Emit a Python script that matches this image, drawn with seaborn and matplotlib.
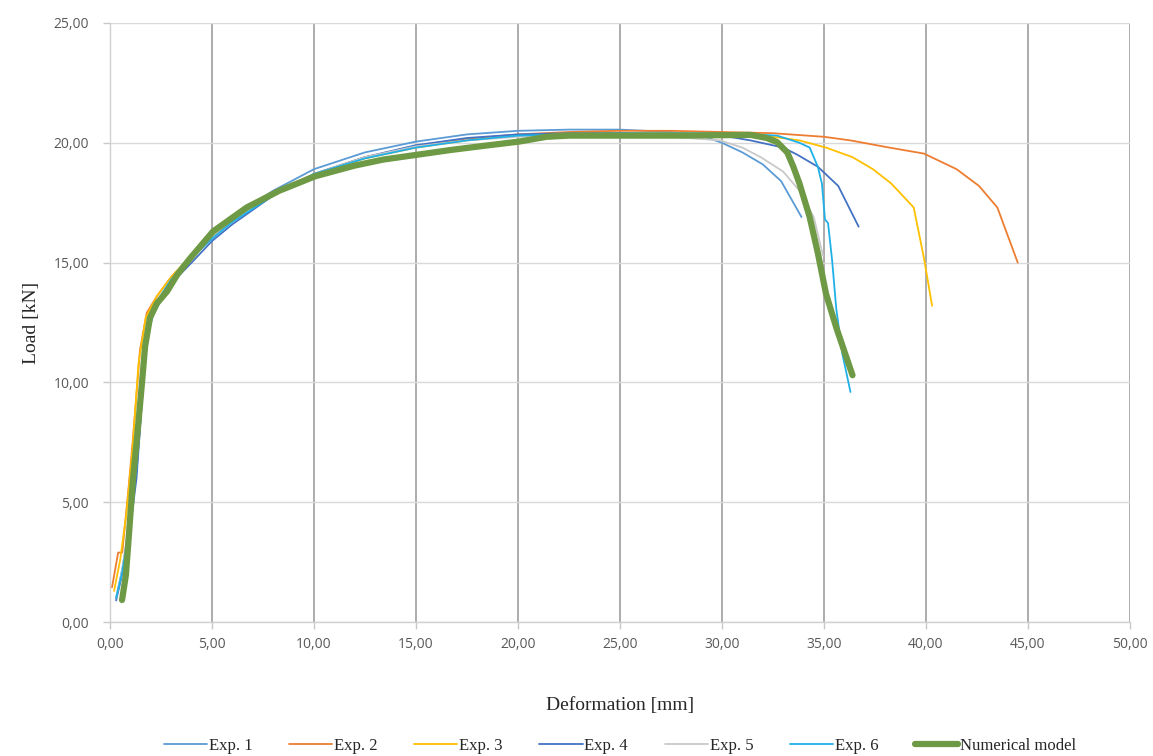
import matplotlib
matplotlib.use("Agg")
import matplotlib.pyplot as plt
import seaborn as sns
import pandas as pd

# ---- data ----
exp1_x = [0.3, 0.6, 1.0, 1.3, 1.5, 1.7, 2.0, 2.5, 3.0, 4.0, 5.0, 6.0, 8.0, 10.0, 12.5, 15.0, 17.5, 20.0, 22.5, 25.0, 27.5, 29.0, 30.0, 31.0, 32.0, 32.9, 33.9]
exp1_y = [1.0, 2.2, 4.3, 6.3, 8.5, 11.0, 12.6, 13.6, 14.3, 15.2, 16.2, 16.9, 18.0, 18.9, 19.6, 20.05, 20.35, 20.5, 20.55, 20.55, 20.45, 20.3, 20.0, 19.6, 19.1, 18.4, 16.9]

exp2_x = [0.1, 0.4, 0.6, 0.9, 1.13, 1.47, 1.8, 2.3, 3.0, 4.0, 5.0, 6.0, 8.0, 10.0, 12.5, 15.0, 17.5, 20.0, 22.5, 25.0, 27.5, 30.0, 32.5, 35.0, 36.3, 38.2, 39.9, 41.5, 42.6, 43.5, 44.5]
exp2_y = [1.45, 2.9, 2.9, 5.5, 7.7, 11.35, 12.9, 13.6, 14.4, 15.3, 16.1, 16.8, 17.9, 18.7, 19.4, 19.85, 20.15, 20.35, 20.45, 20.5, 20.5, 20.45, 20.4, 20.25, 20.1, 19.8, 19.55, 18.9, 18.2, 17.3, 15.0]

exp3_x = [0.2, 0.5, 0.8, 1.1, 1.4, 1.75, 2.3, 3.0, 4.0, 5.0, 6.0, 8.0, 10.0, 12.5, 15.0, 17.5, 20.0, 22.5, 25.0, 27.5, 30.0, 32.5, 33.8, 35.1, 36.4, 37.4, 38.3, 39.4, 39.9, 40.3]
exp3_y = [1.3, 2.6, 4.5, 7.2, 10.8, 12.7, 13.6, 14.4, 15.3, 16.1, 16.8, 17.9, 18.7, 19.35, 19.8, 20.1, 20.3, 20.4, 20.4, 20.4, 20.35, 20.25, 20.1, 19.8, 19.4, 18.9, 18.3, 17.3, 15.2, 13.2]

exp4_x = [0.3, 0.6, 1.0, 1.3, 1.57, 1.8, 2.1, 2.6, 3.2, 4.0, 5.0, 6.0, 8.0, 10.0, 12.5, 15.0, 17.5, 20.0, 22.5, 25.0, 27.5, 30.0, 31.4, 33.0, 33.7, 34.7, 35.7, 36.7]
exp4_y = [0.9, 2.0, 4.0, 6.0, 9.3, 11.8, 12.8, 13.6, 14.3, 15.0, 15.9, 16.6, 17.8, 18.7, 19.4, 19.9, 20.2, 20.35, 20.4, 20.4, 20.35, 20.3, 20.1, 19.8, 19.5, 19.0, 18.2, 16.5]

exp5_x = [0.3, 0.6, 1.0, 1.3, 1.6, 1.9, 2.4, 3.0, 4.0, 5.0, 6.0, 8.0, 10.0, 12.5, 15.0, 17.5, 20.0, 22.5, 25.0, 27.5, 29.9, 31.0, 31.9, 33.0, 33.8, 34.5, 34.95]
exp5_y = [1.0, 2.2, 4.5, 7.0, 10.5, 12.5, 13.5, 14.3, 15.2, 16.1, 16.8, 17.9, 18.7, 19.4, 19.85, 20.1, 20.25, 20.3, 20.3, 20.25, 20.1, 19.8, 19.4, 18.8, 18.0, 16.9, 15.3]

exp6_x = [0.3, 0.6, 1.0, 1.3, 1.6, 1.9, 2.4, 3.0, 4.0, 5.0, 6.0, 8.0, 10.0, 12.5, 15.0, 17.5, 20.0, 22.5, 25.0, 27.5, 30.0, 31.5, 32.7, 33.8, 34.3, 34.7, 34.9, 35.05, 35.2, 35.4, 35.6, 35.9, 36.3]
exp6_y = [1.0, 2.1, 4.2, 6.5, 10.0, 12.3, 13.5, 14.3, 15.2, 16.0, 16.7, 17.8, 18.7, 19.35, 19.8, 20.1, 20.3, 20.35, 20.4, 20.4, 20.4, 20.35, 20.3, 20.0, 19.8, 19.0, 18.3, 16.8, 16.65, 15.1, 13.1, 11.2, 9.6]

num_x = [0.59, 0.78, 0.95, 1.13, 1.37, 1.57, 1.72, 1.96, 2.3, 2.8, 3.3, 3.9, 5.05, 6.7, 8.3, 10.05, 12.0, 13.4, 15.05, 16.7, 18.3, 20.05, 21.4, 22.5, 25.0, 28.0, 31.4, 32.2, 32.7, 33.2, 33.5, 33.8, 34.3, 34.7, 35.1, 35.6, 36.0, 36.4]
num_y = [0.92, 1.96, 3.9, 6.0, 8.1, 10.0, 11.5, 12.7, 13.3, 13.8, 14.5, 15.15, 16.3, 17.3, 18.0, 18.6, 19.05, 19.3, 19.5, 19.7, 19.87, 20.05, 20.25, 20.3, 20.3, 20.3, 20.33, 20.2, 20.03, 19.6, 19.0, 18.3, 16.9, 15.4, 13.7, 12.3, 11.3, 10.3]

series_names = ["Exp. 1", "Exp. 2", "Exp. 3", "Exp. 4", "Exp. 5", "Exp. 6", "Numerical model"]
x_ticks = [0, 5, 10, 15, 20, 25, 30, 35, 40, 45, 50]
y_ticks = [0, 5, 10, 15, 20, 25]

colors = ["#5B9BD5", "#ED7D31", "#FFC000", "#4472C4", "#C9C9C9", "#1FB0E8", "#6E9A45"]

sns.set_theme(style="white")
plt.rcParams["font.family"] = ["Liberation Serif", "DejaVu Serif"]

fig = plt.figure(figsize=(11.53, 7.56), dpi=100)
ax = fig.add_axes([0.0954, 0.1772, 0.8846, 0.7924])

data = [(exp1_x, exp1_y), (exp2_x, exp2_y), (exp3_x, exp3_y), (exp4_x, exp4_y),
        (exp5_x, exp5_y), (exp6_x, exp6_y)]
for (xs, ys), name, c in zip(data, series_names[:6], colors[:6]):
    df = pd.DataFrame({"x": xs, "y": ys})
    sns.lineplot(data=df, x="x", y="y", sort=False, estimator=None, ax=ax,
                 color=c, linewidth=1.3, label=name, zorder=3)

dfn = pd.DataFrame({"x": num_x, "y": num_y})
sns.lineplot(data=dfn, x="x", y="y", sort=False, estimator=None, ax=ax,
             color=colors[6], linewidth=4.5, marker="s", markersize=3.5,
             markeredgewidth=0, label=series_names[6], zorder=4)

ax.set_xlim(0, 50)
ax.set_ylim(0, 25)
ax.set_xticks(x_ticks)
ax.set_yticks(y_ticks)
ax.set_xticklabels([f"{v:.2f}".replace(".", ",") for v in x_ticks],
                   fontfamily="Open Sans", fontsize=10, color="#595959")
ax.set_yticklabels([f"{v:.2f}".replace(".", ",") for v in y_ticks],
                   fontfamily="Open Sans", fontsize=10, color="#595959")

ax.xaxis.grid(True, color="#A6A6A6", linewidth=1.3, zorder=0)
ax.yaxis.grid(True, color="#D9D9D9", linewidth=1.0, zorder=0)
ax.set_axisbelow(True)
for s in ["top", "right"]:
    ax.spines[s].set_visible(False)
for s in ["left", "bottom"]:
    ax.spines[s].set_color("#D0D0D0")
    ax.spines[s].set_linewidth(1.0)
ax.tick_params(axis="both", which="both", length=5, width=1, color="#C8C8C8",
               bottom=True, left=True)
ax.tick_params(axis="x", pad=6)
ax.tick_params(axis="y", pad=10)

ax.set_xlabel("Deformation [mm]", fontsize=14, color="#262626", labelpad=32)
ax.set_ylabel("Load [kN]", fontsize=14, color="#262626", labelpad=10)

leg = ax.legend(loc="upper center", bbox_to_anchor=(0.5, -0.168), ncol=7,
                frameon=False, fontsize=12, handlelength=2.6, handletextpad=0.1,
                columnspacing=2.2)
for t in leg.get_texts():
    t.set_color("#262626")

fig.savefig("out.png", dpi=100)
